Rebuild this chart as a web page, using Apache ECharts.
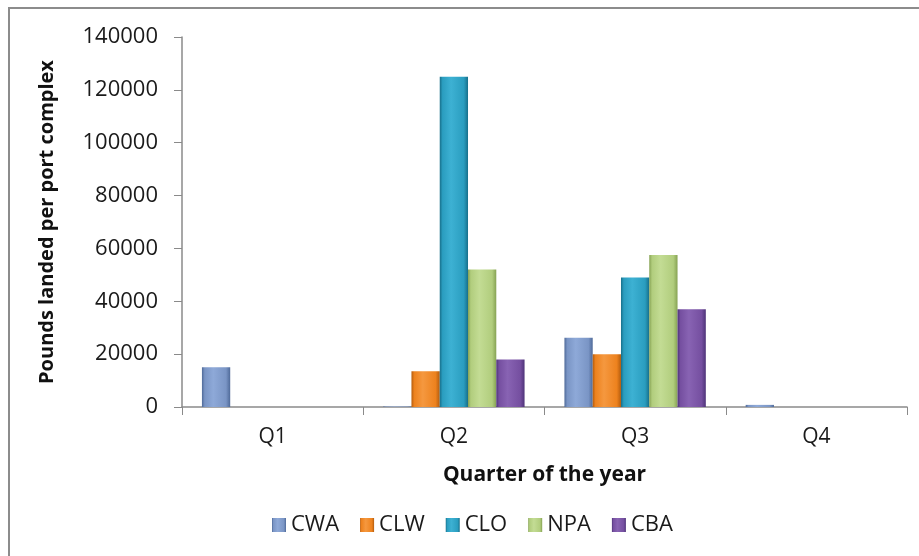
<!DOCTYPE html>
<html>
<head>
<meta charset="utf-8">
<script src="https://cdn.jsdelivr.net/npm/echarts@6/dist/echarts.min.js"></script>
<style>
  html, body { margin: 0; padding: 0; background: #ffffff; }
  #chart { width: 919px; height: 556px; }
</style>
</head>
<body>
<div id="chart"></div>
<script>
// Quarters of the year
var quarters = ['Q1', 'Q2', 'Q3', 'Q4'];

// Pounds landed per port complex, by quarter
var cwa = [15000, 200, 26200, 800];
var clw = [0, 13500, 20000, 0];
var clo = [0, 125000, 49000, 0];
var npa = [0, 52000, 57500, 0];
var cba = [0, 18000, 37000, 0];

var seriesNames = ['CWA', 'CLW', 'CLO', 'NPA', 'CBA'];
var seriesValues = [cwa, clw, clo, npa, cba];

// y axis ticks
var yMin = 0, yMax = 140000, yStep = 20000;

// base / light / dark tones for each port complex
var palette = [
  ['#7a95c5', '#8ea9d8', '#4f6a99'],
  ['#ed821e', '#f5983f', '#b45c0e'],
  ['#2a9dbf', '#3db1d3', '#176f8a'],
  ['#b1cd7d', '#c3dc94', '#86a253'],
  ['#754fa0', '#8863b3', '#4f3479']
];

// shaded column fill: dark rims, lighter body
function bevel(c) {
  return new echarts.graphic.LinearGradient(0, 0, 1, 0, [
    { offset: 0, color: c[2] },
    { offset: 0.1, color: c[0] },
    { offset: 0.4, color: c[1] },
    { offset: 0.85, color: c[0] },
    { offset: 1, color: c[2] }
  ]);
}

var FONT = '"Open Sans", "Noto Sans", sans-serif';

var chart = echarts.init(document.getElementById('chart'), null, { renderer: 'canvas' });

chart.setOption({
  animation: false,
  backgroundColor: '#ffffff',
  textStyle: { fontFamily: FONT },
  graphic: [{
    type: 'rect',
    shape: { x: 9, y: 8, width: 1000, height: 700 },
    style: { fill: 'none', stroke: '#8c8c8c', lineWidth: 2 },
    silent: true
  }],
  grid: { left: 182, right: 12, top: 37, bottom: 149, containLabel: false },
  legend: {
    data: seriesNames,
    left: 272,
    top: 514,
    padding: 0,
    itemWidth: 14,
    itemHeight: 14,
    itemGap: 21,
    icon: 'rect',
    textStyle: { fontFamily: FONT, fontSize: 22, color: '#1a1a1a' }
  },
  xAxis: {
    type: 'category',
    data: quarters,
    name: 'Quarter of the year',
    nameLocation: 'middle',
    nameGap: 58,
    nameTextStyle: { fontFamily: FONT, fontSize: 21, fontWeight: 'bold', color: '#111' },
    axisLine: { lineStyle: { color: '#8a8a8a', width: 1.5 } },
    axisTick: { show: true, length: 8, lineStyle: { color: '#8a8a8a' } },
    axisLabel: { fontFamily: FONT, fontSize: 21, color: '#1a1a1a', margin: 20 },
    splitLine: { show: false }
  },
  yAxis: {
    type: 'value',
    min: yMin,
    max: yMax,
    interval: yStep,
    name: 'Pounds landed per port complex',
    nameLocation: 'middle',
    nameGap: 125,
    nameRotate: 90,
    nameTextStyle: { fontFamily: FONT, fontSize: 20, fontWeight: 'bold', color: '#111' },
    axisLine: { show: true, lineStyle: { color: '#8a8a8a', width: 1.5 } },
    axisTick: { show: true, length: 8, lineStyle: { color: '#8a8a8a' } },
    axisLabel: {
      fontFamily: FONT, fontSize: 22, color: '#1a1a1a', margin: 24,
      formatter: function (v) { return String(v); }
    },
    splitLine: { show: false }
  },
  series: seriesNames.map(function (name, i) {
    return {
      name: name,
      type: 'bar',
      data: seriesValues[i],
      barGap: '0%',
      barCategoryGap: '22%',
      itemStyle: { color: bevel(palette[i]), borderWidth: 0 },
      emphasis: { disabled: true }
    };
  })
});
</script>
</body>
</html>
